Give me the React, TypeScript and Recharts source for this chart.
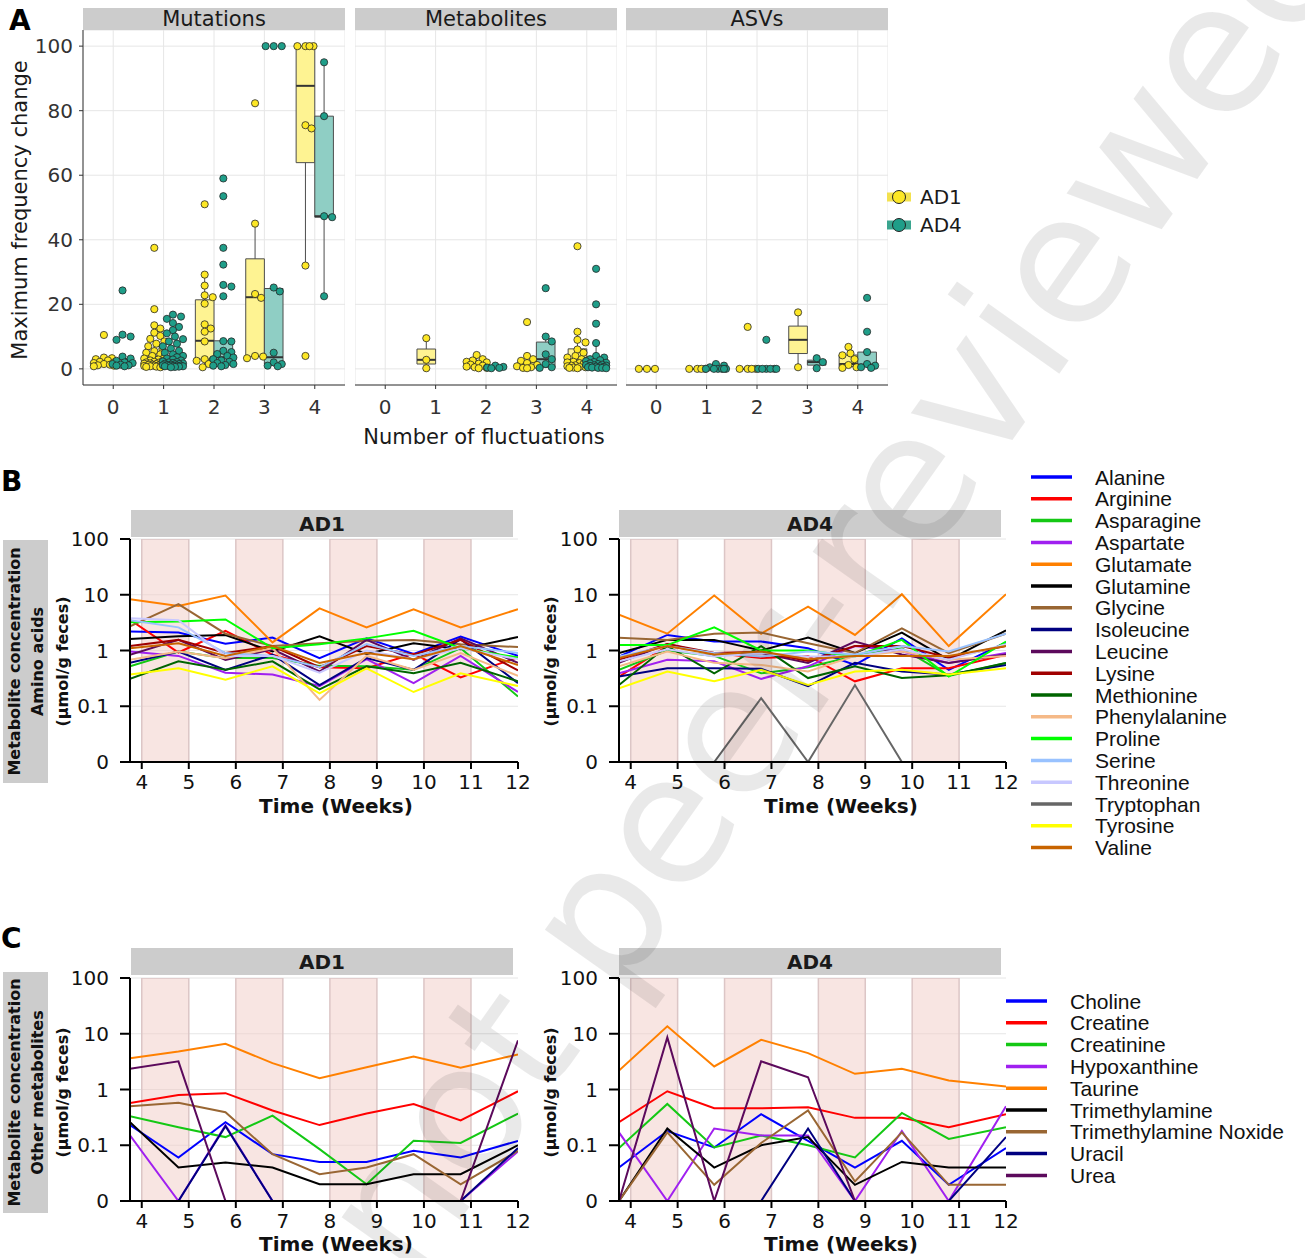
import React from 'react';
import {
  ComposedChart,
  LineChart,
  Line,
  Scatter,
  XAxis,
  YAxis,
  CartesianGrid,
  ReferenceArea,
  ReferenceLine,
} from 'recharts';

const SANS = '"DejaVu Sans", Verdana, sans-serif';
const ARIAL = '"Liberation Sans", Arial, sans-serif';

// ---------------- Panel A data ----------------
const categories = [0, 1, 2, 3, 4];
const groups = ['AD1', 'AD4'];
const facetNames = ['Mutations', 'Metabolites', 'ASVs'];
const yTicksA = [0, 20, 40, 60, 80, 100];

// points per category (0..4)
const mutAD1Pts = [
  [10.5, 3.5, 3.3, 3.0, 2.6, 2.2, 2.0, 1.8, 1.5, 1.3, 1.1, 1.0, 0.8],
  [37.5, 18.5, 13.5, 12.5, 11.2, 10.2, 9.3, 8.5, 7.8, 7.0, 6.2, 5.5, 5.0, 4.5, 4.0, 3.6, 3.2, 2.9, 2.6, 2.4, 2.2, 2.0, 1.9, 1.8, 1.7, 1.6, 1.5, 1.4, 1.3, 1.2, 1.1, 1.0, 1.0, 0.9, 0.8, 0.8, 0.7, 0.6, 0.5],
  [51, 29.2, 25.8, 22.8, 22.2, 20.2, 13.8, 12.5, 11.5, 8.5, 3.0, 2.8, 2.5, 1.5, 0.5],
  [82.3, 45, 23.2, 22.0, 4.0, 3.8, 3.3],
  [100, 100, 100, 100, 75.5, 74.5, 32, 4],
];
const mutAD4Pts = [
  [24.3, 10.6, 10.0, 9.0, 3.8, 3.2, 2.5, 2.0, 1.8, 1.5, 1.3, 1.1, 1.0, 0.8],
  [16.8, 16.2, 15.5, 14.2, 13.0, 12.0, 11.0, 10.0, 9.2, 8.5, 7.8, 7.0, 6.3, 5.6, 5.0, 4.5, 4.0, 3.6, 3.2, 2.9, 2.6, 2.3, 2.1, 2.0, 1.8, 1.7, 1.6, 1.5, 1.4, 1.3, 1.2, 1.1, 1.0, 1.0, 0.9, 0.9, 0.8, 0.8, 0.7, 0.6, 0.5],
  [59, 53.5, 37.5, 32.3, 26.0, 25.5, 22.5, 8.6, 8.5, 5.6, 5.2, 4.6, 4.0, 3.5, 3.0, 2.6, 2.2, 1.8, 1.5, 1.2, 1.0, 0.8],
  [100, 100, 100, 25.2, 24.0, 5.0, 2.0, 1.5, 1.0, 0.8],
  [95, 78.3, 47.3, 47, 22.5],
];
// box stats: [q1, median, q3, lower whisker, upper whisker]
const mutAD1Box = [[1.1, 1.5, 2.6, 0.8, 3.5], [1.0, 1.6, 4.0, 0.5, 8.5], [3.0, 8.7, 21.4, 0.5, 29.2], [3.8, 22.2, 34.1, 3.3, 45], [63.9, 87.7, 100, 32, 100]];
const mutAD4Box = [[1.2, 1.8, 3.2, 0.8, 3.8], [0.9, 1.4, 2.6, 0.5, 5.0], [1.5, 3.6, 8.7, 0.8, 8.7], [1.5, 3.6, 24.9, 0.8, 25.2], [47, 47.3, 78.3, 22.5, 95]];

const metAD1Pts = [
  [],
  [9.5, 2.8, 0.2],
  [4.3, 3.0, 2.6, 2.2, 2.0, 1.6, 1.3, 1.0, 0.7, 0.5, 0.3, 0.2],
  [14.5, 4.0, 3.0, 2.5, 1.8, 1.2, 0.8, 0.5, 0.3, 0.2],
  [38, 11.5, 9.0, 8.2, 6.0, 5.0, 4.0, 3.5, 3.0, 2.6, 2.2, 2.0, 1.8, 1.5, 1.3, 1.1, 1.0, 0.8, 0.6, 0.5, 0.4, 0.3, 0.2],
];
const metAD4Pts = [
  [],
  [],
  [1.0, 0.6, 0.4, 0.3, 0.2],
  [25, 10, 8.5, 4.5, 3.0, 1.5, 0.5, 0.3],
  [31, 20, 14, 8, 4.0, 3.5, 3.0, 2.7, 2.4, 2.1, 1.9, 1.7, 1.5, 1.3, 1.2, 1.1, 1.0, 0.9, 0.8, 0.7, 0.6, 0.5, 0.4, 0.3, 0.3, 0.2],
];
const metAD1Box = [null, [1.5, 2.8, 6.15, 0.2, 9.5], [0.5, 1.4, 2.5, 0.2, 4.3], [0.5, 1.0, 2.1, 0.2, 4.0], [0.5, 2.6, 6.2, 0.2, 11.5]];
const metAD4Box = [null, null, [0.2, 0.3, 0.6, 0.2, 1.0], [0.5, 3.0, 8.3, 0.3, 10], [0.5, 1.3, 3.5, 0.2, 8.0]];

const asvAD1Pts = [[0, 0, 0], [0, 0, 0, 0], [13, 0, 0, 0, 0], [17.5, 0.5], [6.8, 4.8, 4.2, 3.0, 1.2, 0.5, 0.3]];
const asvAD4Pts = [[], [1.5, 1.0, 0.5, 0, 0, 0, 0, 0, 0], [9, 0, 0, 0, 0, 0, 0], [3.3, 2.1, 0.2], [22, 11.5, 5.2, 1.5, 1.0, 0.5, 0.3]];
const asvAD1Box = [[0, 0, 0, 0, 0], [0, 0, 0, 0, 0], [0, 0, 0, 0, 0], [4.75, 9.0, 13.25, 0.5, 17.5], [0.7, 1.5, 4.3, 0.3, 6.8]];
const asvAD4Box = [null, [0, 0, 0.2, 0, 0.5], [0, 0, 0, 0, 0], [1.15, 2.1, 2.7, 0.2, 3.3], [0.7, 1.3, 5.2, 0.3, 5.2]];

const POINT_FILL = ['#FDE725', '#1F9E89'];
const BOX_FILL = ['#FEF392', '#8FCEC4'];
const LEGEND_BAR = ['#F3E14E', '#3AA58F'];
const GROUP_SHIFT = [-0.185, 0.185];
const BOX_HALF = 0.185;

// ---------------- Panels B / C data ----------------
const weeks = [3.75, 4.78, 5.78, 6.78, 7.78, 8.78, 9.78, 10.78, 12];
const weekTicks = [4, 5, 6, 7, 8, 9, 10, 11, 12];
const treatmentBands = [[4, 5], [6, 7], [8, 9], [10, 11]];
const concTickLabels = ['0', '0.1', '1', '10', '100'];

const aminoNames = ['Alanine', 'Arginine', 'Asparagine', 'Aspartate', 'Glutamate', 'Glutamine', 'Glycine', 'Isoleucine', 'Leucine', 'Lysine', 'Methionine', 'Phenylalanine', 'Proline', 'Serine', 'Threonine', 'Tryptophan', 'Tyrosine', 'Valine'];
const aminoColors = ['#0000ff', '#ff0000', '#14c814', '#a020f0', '#ff8000', '#000000', '#996633', '#000080', '#5c0a5c', '#a00000', '#006400', '#f5b987', '#00ff00', '#99c2ff', '#c8c8ff', '#666666', '#ffff00', '#c86400'];

// rows follow aminoNames order; columns follow weeks
const aminoAD1 = [
  [2.19, 2.1, 1.32, 1.71, 0.73, 1.66, 0.87, 1.78, 0.8],
  [3.54, 0.92, 2.25, 0.84, 0.5, 0.48, 0.87, 0.33, 0.76],
  [0.52, 0.96, 0.73, 0.73, 0.53, 0.52, 0.45, 1.1, 0.15],
  [0.96, 0.8, 0.4, 0.37, 0.23, 0.7, 0.26, 0.8, 0.18],
  [8.3, 6.3, 9.7, 1.4, 5.7, 2.6, 5.5, 2.6, 5.5],
  [1.6, 1.8, 1.9, 0.96, 1.8, 0.87, 1.35, 1.05, 1.75],
  [2.7, 6.8, 2.0, 1.2, 1.35, 1.5, 1.55, 1.3, 1.15],
  [0.6, 0.96, 0.45, 0.84, 0.24, 0.73, 0.45, 1.6, 0.26],
  [0.84, 1.55, 0.68, 1.05, 0.42, 1.55, 0.68, 1.65, 0.6],
  [1.2, 1.55, 0.9, 1.2, 0.5, 1.2, 0.84, 1.55, 0.44],
  [0.31, 0.64, 0.45, 0.64, 0.2, 0.52, 0.39, 0.6, 0.28],
  [0.68, 0.96, 0.73, 1.1, 0.13, 0.8, 0.45, 0.9, 0.35],
  [3.2, 3.3, 3.6, 1.1, 1.3, 1.65, 2.25, 1.1, 0.75],
  [3.5, 2.6, 0.9, 0.8, 0.5, 1.3, 0.8, 1.2, 0.9],
  [3.8, 3.5, 0.8, 0.8, 0.4, 1.0, 0.7, 1.1, 0.7],
  [0, 0, 0, 0, 0, 0, 0, 0, 0],
  [0.37, 0.48, 0.3, 0.52, 0.17, 0.48, 0.18, 0.39, 0.23],
  [1.1, 1.35, 0.8, 1.2, 0.6, 0.9, 0.7, 1.2, 0.55],
];
const aminoAD4 = [
  [0.78, 1.9, 1.45, 1.45, 1.1, 0.55, 1.65, 0.45, 1.4],
  [0.34, 1.2, 0.9, 0.73, 0.8, 0.28, 0.48, 0.48, 0.84],
  [0.45, 1.0, 0.8, 0.39, 0.5, 0.8, 1.1, 0.35, 0.6],
  [0.39, 0.68, 0.64, 0.31, 0.52, 1.2, 0.96, 0.6, 0.9],
  [4.4, 2.0, 9.7, 2.0, 6.1, 1.9, 10.2, 1.2, 10.2],
  [0.9, 1.55, 1.55, 1.0, 1.7, 0.9, 2.1, 0.68, 2.3],
  [1.7, 1.55, 2.0, 2.1, 1.35, 0.9, 2.5, 0.9, 2.0],
  [0.34, 0.48, 0.48, 0.47, 0.23, 0.6, 0.42, 0.37, 0.55],
  [0.6, 1.3, 0.85, 0.9, 0.6, 1.45, 0.85, 0.6, 0.85],
  [0.68, 1.3, 0.9, 0.95, 0.65, 1.2, 1.2, 0.75, 1.2],
  [0.24, 1.2, 0.39, 1.2, 0.32, 0.52, 0.32, 0.36, 0.6],
  [0.52, 0.96, 0.6, 0.55, 0.42, 0.8, 0.96, 0.68, 0.8],
  [1.25, 1.25, 2.6, 1.0, 1.0, 0.78, 1.55, 0.34, 1.45],
  [0.78, 1.2, 0.9, 0.78, 0.96, 0.85, 1.2, 0.96, 2.0],
  [0.64, 1.05, 0.78, 0.9, 0.78, 0.78, 1.05, 0.68, 1.3],
  [0, 0, 0, 0.14, 0, 0.24, 0, 0, 0],
  [0.21, 0.42, 0.28, 0.45, 0.24, 0.42, 0.45, 0.37, 0.48],
  [0.73, 1.2, 0.85, 0.96, 0.7, 0.8, 0.8, 0.8, 1.2],
];

const otherNames = ['Choline', 'Creatine', 'Creatinine', 'Hypoxanthine', 'Taurine', 'Trimethylamine', 'Trimethylamine Noxide', 'Uracil', 'Urea'];
const otherColors = ['#0000ff', '#ff0000', '#14c814', '#a020f0', '#ff8000', '#000000', '#996633', '#000080', '#5c0a5c'];
const otherAD1 = [
  [0.23, 0.078, 0.26, 0.084, 0.07, 0.07, 0.09, 0.078, 0.12],
  [0.57, 0.8, 0.86, 0.42, 0.23, 0.37, 0.55, 0.28, 0.93],
  [0.33, 0.21, 0.14, 0.34, 0.093, 0.03, 0.12, 0.11, 0.37],
  [0.15, 0, 0.23, 0, 0, 0, 0, 0, 0.089],
  [3.65, 4.8, 6.6, 2.97, 1.6, 2.5, 3.9, 2.45, 4.25],
  [0.26, 0.06, 0.069, 0.06, 0.03, 0.03, 0.048, 0.048, 0.1],
  [0.5, 0.58, 0.39, 0.084, 0.048, 0.06, 0.084, 0.03, 0.09],
  [0, 0, 0.22, 0, 0, 0, 0, 0, 0.095],
  [2.35, 3.2, 0, 0, 0, 0, 0, 0, 7.6],
];
const otherAD4 = [
  [0.06, 0.18, 0.096, 0.36, 0.12, 0.06, 0.12, 0.029, 0.095],
  [0.26, 0.93, 0.46, 0.46, 0.48, 0.31, 0.31, 0.21, 0.36],
  [0.095, 0.55, 0.096, 0.15, 0.1, 0.078, 0.38, 0.13, 0.21],
  [0.17, 0, 0.2, 0.15, 0.15, 0, 0.18, 0, 0.5],
  [2.19, 13.6, 2.59, 7.8, 4.5, 1.91, 2.35, 1.45, 1.13],
  [0, 0.2, 0.06, 0.1, 0.14, 0.029, 0.07, 0.06, 0.06],
  [0, 0.17, 0.029, 0.11, 0.42, 0.035, 0.17, 0.029, 0.029],
  [0, 0, 0, 0, 0.2, 0, 0, 0, 0.14],
  [0, 8.6, 0, 3.2, 1.66, 0, 0, 0, 0],
];

// symmetric-log style axis: linear 0..0.1, then log decades
const symT = (v: number) => (v <= 0.1 ? v * 10 : 2 + Math.log10(v));

function buildRows(names: string[], matrix: number[][]) {
  return weeks.map((w, i) => {
    const r: Record<string, number> = { week: w };
    names.forEach((n, k) => {
      r[n] = symT(matrix[k][i]);
    });
    return r;
  });
}

// beeswarm-like horizontal offsets (layout only)
function swarmOffsets(values: number[]): number[] {
  const XPX = 50.4;
  const YPX = 3.22;
  const D = 6.6;
  const step = 0.04;
  const cands = [0];
  for (let k = 1; k <= 5; k++) cands.push(k * step, -k * step);
  const order = values.map((_, i) => i).sort((a, b) => values[b] - values[a]);
  const out = new Array(values.length).fill(0);
  const placed: { dx: number; y: number }[] = [];
  for (const i of order) {
    let best = 0;
    let bestScore = -Infinity;
    for (const c of cands) {
      let minD = Infinity;
      for (const p of placed) {
        const d = Math.hypot((c - p.dx) * XPX, (values[i] - p.y) * YPX);
        if (d < minD) minD = d;
      }
      if (minD >= D) {
        best = c;
        break;
      }
      if (minD > bestScore) {
        bestScore = minD;
        best = c;
      }
    }
    out[i] = best;
    placed.push({ dx: best, y: values[i] });
  }
  return out;
}

type Box = number[] | null;

function BoxFacet(props: { left: number; width: number; showY: boolean; pts: number[][][]; boxes: Box[][] }) {
  const { left, width, showY, pts, boxes } = props;
  const series = pts.map((groupPts, g) =>
    groupPts.flatMap((vals, c) => {
      const off = swarmOffsets(vals);
      return vals.map((v, i) => ({ x: categories[c] + GROUP_SHIFT[g] + off[i], y: v }));
    })
  );
  const boxEls: React.ReactNode[] = [];
  boxes.forEach((gb, g) =>
    gb.forEach((b, c) => {
      if (!b) return;
      const [q1, med, q3, lo, hi] = b;
      const cx = categories[c] + GROUP_SHIFT[g];
      const x1 = cx - BOX_HALF;
      const x2 = cx + BOX_HALF;
      boxEls.push(
        <ReferenceLine key={`wu${g}-${c}`} segment={[{ x: cx, y: q3 }, { x: cx, y: hi }]} stroke="#4d4d4d" strokeWidth={1} ifOverflow="visible" />
      );
      boxEls.push(
        <ReferenceLine key={`wl${g}-${c}`} segment={[{ x: cx, y: lo }, { x: cx, y: q1 }]} stroke="#4d4d4d" strokeWidth={1} ifOverflow="visible" />
      );
      boxEls.push(
        <ReferenceArea key={`b${g}-${c}`} x1={x1} x2={x2} y1={q1} y2={q3} fill={BOX_FILL[g]} fillOpacity={1} stroke="#4d4d4d" strokeWidth={1} ifOverflow="visible" />
      );
      boxEls.push(
        <ReferenceLine key={`m${g}-${c}`} segment={[{ x: x1, y: med }, { x: x2, y: med }]} stroke="#333333" strokeWidth={2} ifOverflow="visible" />
      );
    })
  );
  return (
    <div style={{ position: 'absolute', left, top: 0 }}>
      <ComposedChart width={width} height={420} margin={{ top: 30, right: 0, left: 0, bottom: 0 }}>
        <CartesianGrid stroke="#e6e6e6" />
        <XAxis
          type="number"
          dataKey="x"
          domain={[-0.6, 4.6]}
          ticks={categories}
          interval={0}
          allowDataOverflow
          height={35}
          tickSize={4}
          tickMargin={11}
          tick={{ fontSize: 20, fill: '#333', fontFamily: SANS }}
          axisLine={{ stroke: '#333' }}
          tickLine={{ stroke: '#333' }}
        />
        <YAxis
          type="number"
          dataKey="y"
          domain={[-5, 105]}
          ticks={yTicksA}
          interval={0}
          allowDataOverflow
          hide={!showY}
          width={83}
          tickSize={4}
          tickMargin={6}
          tick={{ fontSize: 20, fill: '#333', fontFamily: SANS }}
          axisLine={{ stroke: '#333' }}
          tickLine={{ stroke: '#333' }}
        />
        {boxEls}
        {series.map((d, g) => (
          <Scatter
            key={groups[g]}
            name={groups[g]}
            data={d}
            fill={POINT_FILL[g]}
            isAnimationActive={false}
            shape={(p: any) => <circle cx={p.cx} cy={p.cy} r={3.6} fill={POINT_FILL[g]} stroke="#262626" strokeWidth={0.8} />}
          />
        ))}
      </ComposedChart>
    </div>
  );
}

function LinePanel(props: {
  left: number;
  top: number;
  width: number;
  yAxisWidth: number;
  rightMargin: number;
  marginTop: number;
  names: string[];
  colors: string[];
  matrix: number[][];
}) {
  const { left, top, width, yAxisWidth, rightMargin, marginTop, names, colors, matrix } = props;
  const rows = buildRows(names, matrix);
  return (
    <div style={{ position: 'absolute', left, top }}>
      <LineChart width={width} height={marginTop + 223 + 50} data={rows} margin={{ top: marginTop, right: rightMargin, left: 0, bottom: 0 }}>
        <CartesianGrid vertical={false} stroke="#e6e6e6" />
        {treatmentBands.map(([a, b]) => (
          <ReferenceArea key={`band${a}`} x1={a} x2={b} fill="#f2cbc6" fillOpacity={0.5} stroke="#dcc6c6" strokeWidth={1.5} ifOverflow="hidden" />
        ))}
        <XAxis
          type="number"
          dataKey="week"
          domain={[3.75, 12]}
          ticks={weekTicks}
          interval={0}
          allowDataOverflow
          height={50}
          tickSize={7}
          tickMargin={6}
          tick={{ fontSize: 20, fill: '#111', fontFamily: SANS }}
          axisLine={{ stroke: '#000', strokeWidth: 2 }}
          tickLine={{ stroke: '#000', strokeWidth: 2 }}
        />
        <YAxis
          type="number"
          domain={[0, 4]}
          ticks={[0, 1, 2, 3, 4]}
          interval={0}
          allowDataOverflow
          width={yAxisWidth}
          tickSize={10}
          tickMargin={11}
          tickFormatter={(t: number) => concTickLabels[Math.round(t)]}
          tick={{ fontSize: 20, fill: '#111', fontFamily: SANS }}
          axisLine={{ stroke: '#000', strokeWidth: 2 }}
          tickLine={{ stroke: '#000', strokeWidth: 2 }}
        />
        {names.map((n, i) => (
          <Line key={n} type="linear" dataKey={n} stroke={colors[i]} strokeWidth={2} dot={false} isAnimationActive={false} />
        ))}
      </LineChart>
    </div>
  );
}

function LineLegend(props: { x: number; textX: number; y0: number; step: number; names: string[]; colors: string[] }) {
  const { x, textX, y0, step, names, colors } = props;
  return (
    <g>
      {names.map((n, i) => (
        <g key={n}>
          <line x1={x} x2={x + 41} y1={y0 + i * step} y2={y0 + i * step} stroke={colors[i]} strokeWidth={3.5} />
          <text x={textX} y={y0 + i * step} dominantBaseline="central" fontFamily={ARIAL} fontSize={21} fill="#111">
            {n}
          </text>
        </g>
      ))}
    </g>
  );
}

export default function App() {
  const facetLefts = [0, 355, 626];
  const facetWidths = [345, 262, 262];
  const stripX = [83, 355, 626];
  const facetData: [number[][][], Box[][]][] = [
    [[mutAD1Pts, mutAD4Pts], [mutAD1Box, mutAD4Box]],
    [[metAD1Pts, metAD4Pts], [metAD1Box, metAD4Box]],
    [[asvAD1Pts, asvAD4Pts], [asvAD1Box, asvAD4Box]],
  ];
  const stripFill = '#cccccc';
  return (
    <div style={{ position: 'absolute', left: 0, top: 0, width: 1305, height: 1258, background: '#fff', overflow: 'hidden' }}>
      {facetData.map(([pts, boxes], i) => (
        <BoxFacet key={facetNames[i]} left={facetLefts[i]} width={facetWidths[i]} showY={i === 0} pts={pts} boxes={boxes} />
      ))}

      <LinePanel left={0} top={500} width={542} yAxisWidth={130} rightMargin={24} marginTop={39} names={aminoNames} colors={aminoColors} matrix={aminoAD1} />
      <LinePanel left={530} top={500} width={500} yAxisWidth={89} rightMargin={24} marginTop={39} names={aminoNames} colors={aminoColors} matrix={aminoAD4} />
      <LinePanel left={0} top={940} width={542} yAxisWidth={130} rightMargin={24} marginTop={38} names={otherNames} colors={otherColors} matrix={otherAD1} />
      <LinePanel left={530} top={940} width={500} yAxisWidth={89} rightMargin={24} marginTop={38} names={otherNames} colors={otherColors} matrix={otherAD4} />

      <svg width={1305} height={1258} style={{ position: 'absolute', left: 0, top: 0, pointerEvents: 'none' }}>
        {/* Panel A */}
        <text x={9} y={30} fontFamily={SANS} fontWeight="bold" fontSize={28} fill="#000">A</text>
        {facetNames.map((n, i) => (
          <g key={n}>
            <rect x={stripX[i]} y={8} width={262} height={22} fill={stripFill} />
            <text x={stripX[i] + 131} y={19} textAnchor="middle" dominantBaseline="central" fontFamily={SANS} fontSize={21} fill="#1a1a1a">
              {n}
            </text>
          </g>
        ))}
        <text x={20} y={210} transform="rotate(-90 20 210)" textAnchor="middle" dominantBaseline="central" fontFamily={SANS} fontSize={21} fill="#1a1a1a">
          Maximum frequency change
        </text>
        <text x={484} y={437} textAnchor="middle" dominantBaseline="central" fontFamily={SANS} fontSize={21} fill="#1a1a1a">
          Number of fluctuations
        </text>
        {groups.map((g, i) => (
          <g key={g}>
            <rect x={887} y={197 + i * 28 - 4.5} width={24} height={9} fill={LEGEND_BAR[i]} />
            <circle cx={899} cy={197 + i * 28} r={6.5} fill={POINT_FILL[i]} stroke="#222" strokeWidth={1} />
            <text x={920} y={197 + i * 28} dominantBaseline="central" fontFamily={SANS} fontSize={20} fill="#1a1a1a">
              {g}
            </text>
          </g>
        ))}

        {/* Panel B */}
        <text x={1} y={491} fontFamily={SANS} fontWeight="bold" fontSize={28} fill="#000">B</text>
        {/* Panel C */}
        <text x={1} y={948} fontFamily={SANS} fontWeight="bold" fontSize={28} fill="#000">C</text>

        {[
          { top: 510, boxTop: 540, boxH: 243, sub: 'Amino acids', xl: 806 },
          { top: 948, boxTop: 972, boxH: 241, sub: 'Other metabolites', xl: 1244 },
        ].map((r) => {
          const cy = r.boxTop + r.boxH / 2;
          return (
            <g key={r.sub}>
              <rect x={131} y={r.top} width={382} height={27} fill={stripFill} />
              <text x={322} y={r.top + 14} textAnchor="middle" dominantBaseline="central" fontFamily={SANS} fontWeight="bold" fontSize={20} fill="#1a1a1a">
                AD1
              </text>
              <rect x={619} y={r.top} width={382} height={27} fill={stripFill} />
              <text x={810} y={r.top + 14} textAnchor="middle" dominantBaseline="central" fontFamily={SANS} fontWeight="bold" fontSize={20} fill="#1a1a1a">
                AD4
              </text>
              <rect x={3} y={r.boxTop} width={45} height={r.boxH} fill={stripFill} />
              <text x={14} y={cy} transform={`rotate(-90 14 ${cy})`} textAnchor="middle" dominantBaseline="central" fontFamily={SANS} fontWeight="bold" fontSize={16} fill="#111">
                Metabolite concentration
              </text>
              <text x={37} y={cy} transform={`rotate(-90 37 ${cy})`} textAnchor="middle" dominantBaseline="central" fontFamily={SANS} fontWeight="bold" fontSize={16} fill="#111">
                {r.sub}
              </text>
              <text x={62} y={cy} transform={`rotate(-90 62 ${cy})`} textAnchor="middle" dominantBaseline="central" fontFamily={SANS} fontWeight="bold" fontSize={16} fill="#111">
                (µmol/g feces)
              </text>
              <text x={550} y={cy} transform={`rotate(-90 550 ${cy})`} textAnchor="middle" dominantBaseline="central" fontFamily={SANS} fontWeight="bold" fontSize={16} fill="#111">
                (µmol/g feces)
              </text>
              <text x={336} y={r.xl} textAnchor="middle" dominantBaseline="central" fontFamily={SANS} fontWeight="bold" fontSize={20} fill="#111">
                Time (Weeks)
              </text>
              <text x={841} y={r.xl} textAnchor="middle" dominantBaseline="central" fontFamily={SANS} fontWeight="bold" fontSize={20} fill="#111">
                Time (Weeks)
              </text>
            </g>
          );
        })}

        <LineLegend x={1031} textX={1095} y0={477} step={21.8} names={aminoNames} colors={aminoColors} />
        <LineLegend x={1006} textX={1070} y0={1001} step={21.8} names={otherNames} colors={otherColors} />

        {/* preprint watermark */}
        <text
          x={885}
          y={620}
          transform="rotate(-54.7 885 620)"
          textAnchor="middle"
          fontFamily={SANS}
          fontSize={180}
          fill="#000"
          fillOpacity={0.085}
        >
          not peer-reviewed
        </text>
      </svg>
    </div>
  );
}
